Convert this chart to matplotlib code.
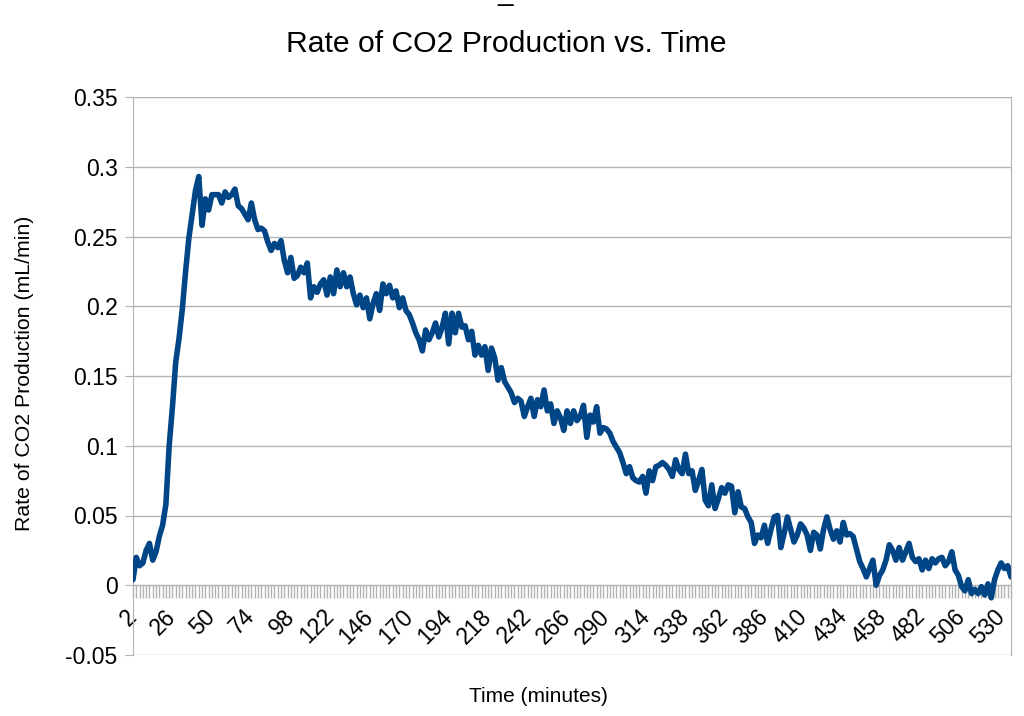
import matplotlib
matplotlib.use("Agg")
import matplotlib.pyplot as plt
from matplotlib.ticker import FixedLocator, FuncFormatter

plt.rcParams['font.family'] = ['Liberation Sans', 'DejaVu Sans']

# time in minutes, one reading every 2 minutes
minutes = list(range(2, 538, 2))

# rate of CO2 production (mL/min), one row per 24 minutes
rate = [
    0.004, 0.020, 0.014, 0.016, 0.025, 0.030, 0.018, 0.024, 0.035, 0.043, 0.058, 0.100,
    0.128, 0.160, 0.177, 0.198, 0.225, 0.249, 0.266, 0.283, 0.293, 0.258, 0.277, 0.269,
    0.280, 0.280, 0.280, 0.274, 0.282, 0.278, 0.280, 0.284, 0.272, 0.270, 0.266, 0.262,
    0.274, 0.262, 0.255, 0.256, 0.254, 0.246, 0.240, 0.245, 0.242, 0.247, 0.233, 0.224,
    0.235, 0.220, 0.222, 0.228, 0.224, 0.231, 0.206, 0.214, 0.210, 0.216, 0.219, 0.208,
    0.221, 0.209, 0.226, 0.214, 0.224, 0.214, 0.221, 0.209, 0.201, 0.208, 0.199, 0.206,
    0.191, 0.202, 0.209, 0.197, 0.216, 0.209, 0.215, 0.206, 0.211, 0.199, 0.206, 0.197,
    0.194, 0.188, 0.181, 0.176, 0.168, 0.183, 0.176, 0.181, 0.188, 0.178, 0.185, 0.195,
    0.173, 0.195, 0.181, 0.195, 0.185, 0.186, 0.176, 0.182, 0.165, 0.172, 0.165, 0.171,
    0.154, 0.170, 0.163, 0.147, 0.156, 0.146, 0.142, 0.138, 0.131, 0.134, 0.132, 0.121,
    0.128, 0.134, 0.121, 0.133, 0.128, 0.140, 0.125, 0.130, 0.116, 0.125, 0.120, 0.111,
    0.125, 0.116, 0.125, 0.118, 0.121, 0.129, 0.106, 0.122, 0.117, 0.128, 0.109, 0.113,
    0.112, 0.109, 0.103, 0.099, 0.095, 0.088, 0.080, 0.085, 0.077, 0.075, 0.074, 0.078,
    0.066, 0.082, 0.075, 0.085, 0.086, 0.088, 0.086, 0.083, 0.078, 0.090, 0.083, 0.080,
    0.094, 0.080, 0.082, 0.068, 0.075, 0.083, 0.061, 0.057, 0.072, 0.055, 0.062, 0.070,
    0.066, 0.072, 0.071, 0.052, 0.067, 0.056, 0.055, 0.049, 0.045, 0.030, 0.036, 0.034,
    0.043, 0.030, 0.040, 0.049, 0.050, 0.027, 0.037, 0.049, 0.040, 0.031, 0.036, 0.044,
    0.041, 0.036, 0.025, 0.038, 0.036, 0.026, 0.040, 0.049, 0.040, 0.033, 0.039, 0.031,
    0.045, 0.036, 0.037, 0.035, 0.026, 0.017, 0.012, 0.006, 0.012, 0.018, 0.000, 0.007,
    0.011, 0.018, 0.029, 0.025, 0.018, 0.027, 0.018, 0.024, 0.030, 0.020, 0.017, 0.019,
    0.011, 0.018, 0.012, 0.019, 0.016, 0.019, 0.020, 0.014, 0.017, 0.024, 0.011, 0.007,
    -0.001, -0.004, 0.004, -0.006, -0.003, -0.006, -0.001, -0.007, 0.001, -0.009, 0.004, 0.011,
    0.016, 0.012, 0.014, 0.006,
]

y_ticks = [-0.05, 0, 0.05, 0.1, 0.15, 0.2, 0.25, 0.3, 0.35]
x_labels = minutes[::12]

grey = '#b3b3b3'

fig = plt.figure(figsize=(10.24, 7.16), dpi=100)
ax = fig.add_axes([133/1024, 1 - 655/716, (1011 - 133)/1024, (655 - 97)/716])

ax.plot(minutes, rate, color='#004586', lw=4, solid_joinstyle='round', solid_capstyle='round', zorder=3)

ax.set_xlim(minutes[0], minutes[-1])
ax.set_ylim(-0.05, 0.35)

ax.yaxis.set_major_locator(FixedLocator(y_ticks))
ax.yaxis.set_major_formatter(FuncFormatter(lambda v, p: ('%g' % round(v, 2))))
ax.grid(axis='y', color=grey, lw=1)
ax.set_axisbelow(True)

ax.xaxis.set_major_locator(FixedLocator(x_labels))
ax.xaxis.set_minor_locator(FixedLocator(minutes))
ax.xaxis.set_major_formatter(FuncFormatter(lambda v, p: '%d' % v))

ax.spines['top'].set_visible(False)
for s in ['left', 'right', 'bottom']:
    ax.spines[s].set_color(grey)
ax.spines['bottom'].set_position(('data', 0))

ax.tick_params(axis='x', which='both', direction='out', length=9, color=grey, width=1)
ax.tick_params(axis='x', which='major', labelsize=16.5, pad=11)
ax.tick_params(axis='y', direction='out', length=6, color=grey, labelsize=16.5, pad=5)
for lab in ax.get_xticklabels():
    lab.set_rotation(45)
    lab.set_ha('right')
    lab.set_va('center')
    lab.set_rotation_mode('anchor')

fig.text(0.494, 1 - 44/716, 'Rate of CO2 Production vs. Time', ha='center', va='center', fontsize=21.7)
fig.text(25/1024, 1 - 373/716, 'Rate of CO2 Production (mL/min)', rotation=90,
         ha='center', va='center', fontsize=15.3)
fig.text(538/1024, 1 - 697/716, 'Time (minutes)', ha='center', va='center', fontsize=15)
fig.text(505/1024, 0.9995, '_', ha='center', va='baseline', fontsize=20)

fig.savefig('out.png', dpi=100)
